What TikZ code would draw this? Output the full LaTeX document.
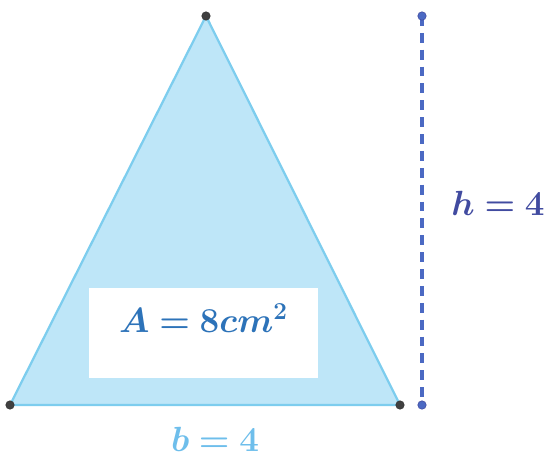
\documentclass[tikz,border=0pt]{standalone}
\usepackage{amsmath,amssymb,bm}
\usepackage{tikz}
\usetikzlibrary{positioning,calc}
\usepackage{xcolor}
\definecolor{trifill}{RGB}{190,230,248}
\definecolor{triedge}{RGB}{125,205,238}
\definecolor{hblue}{RGB}{75,105,195}
\definecolor{hlabel}{RGB}{65,75,160}
\definecolor{blabel}{RGB}{110,190,235}
\definecolor{areablue}{RGB}{45,115,185}

\begin{document}
\begin{tikzpicture}[
    x=0.025cm, y=0.025cm,
    pt/.style={circle, draw=black!80, fill=black!75, inner sep=0pt, minimum size=6pt},
    hpt/.style={circle, draw=hlabel, fill=hblue, inner sep=0pt, minimum size=6pt},
    lbl/.style={font=\fontsize{25}{30}\selectfont, inner sep=1pt}
]
    \useasboundingbox (0,0) rectangle (547,456);

    \coordinate (apex) at (206,440);
    \coordinate (left) at (10,51);
    \coordinate (right) at (400,51);
    \coordinate (htop) at (422,440);
    \coordinate (hbot) at (422,51);

    \filldraw[fill=trifill, draw=triedge, line width=1.6pt, line join=round] (apex) -- (left) -- (right) -- cycle;
    \draw[hblue, line width=2.4pt, dash pattern=on 7pt off 5pt] (htop) -- (hbot);

    \node[pt] (A) at (apex) {};
    \node[pt] (B) at (left) {};
    \node[pt] (C) at (right) {};
    \node[hpt] (H1) at (htop) {};
    \node[hpt] (H2) at (hbot) {};

    % Area box
    \node[fill=white, minimum width=229*0.025cm, minimum height=90*0.025cm, inner sep=0pt] (area) at (203.5,123) {};
    \node[text=areablue, font=\fontsize{25}{30}\selectfont] (areatxt) at (203.5,138) {$\boldsymbol{A = 8cm^2}$};

    % Labels
    \node[lbl, text=hlabel] (hl) at (498,253) {$\boldsymbol{h=4}$};
    \node[lbl, text=blabel] (bl) at (215,17) {$\boldsymbol{b=4}$};
\end{tikzpicture}
\end{document}
